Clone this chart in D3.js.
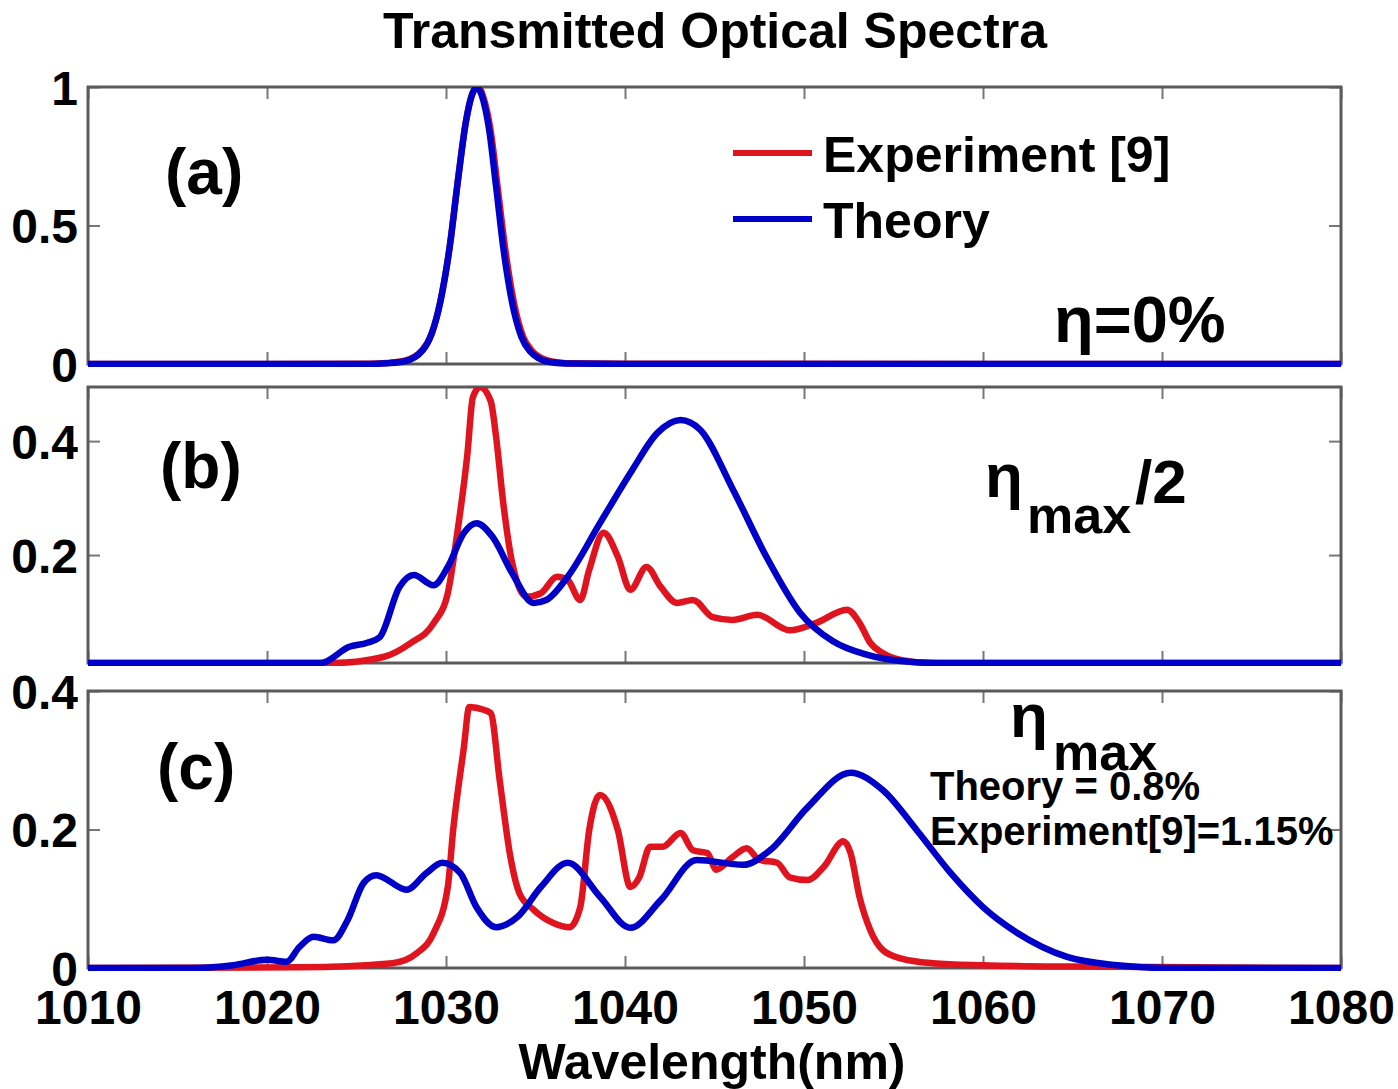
<!DOCTYPE html>
<html><head><meta charset="utf-8">
<script src="https://cdn.jsdelivr.net/npm/d3@7"></script>
<style>
body{margin:0;background:#fff;}
text{font-family:"Liberation Sans",Arial,sans-serif;font-weight:bold;fill:#000;}
</style></head>
<body><svg id="chart" width="1398" height="1089"></svg>
<script>
// ---- data ----
const xTicks = [1010,1020,1030,1040,1050,1060,1070,1080];

// panel (a): eta = 0%
const aExpX = [1010,1020,1025.7,1026.7,1027.7,1028.7,1029.2,1029.7,1030.2,1030.7,1031.1,1031.5,1031.8,1032.1,1032.5,1032.9,1033.3,1033.8,1034.3,1034.8,1035.3,1035.9,1036.7,1040,1080];
const aExpY = [0,0,0.001,0.004,0.012,0.052,0.11,0.23,0.42,0.68,0.87,0.98,1.0,0.96,0.84,0.63,0.42,0.22,0.1,0.048,0.022,0.009,0.003,0.001,0];
const aTheX = [1010,1020,1025.7,1026.7,1027.7,1028.7,1029.2,1029.7,1030.2,1030.7,1031.1,1031.5,1031.7,1032,1032.4,1032.8,1033.2,1033.7,1034.2,1034.7,1035.2,1035.7,1036.7,1040,1080];
const aTheY = [0,0,0,0.003,0.01,0.05,0.11,0.23,0.42,0.68,0.87,0.98,1.0,0.97,0.85,0.64,0.42,0.22,0.1,0.045,0.02,0.008,0.002,0,0];

// panel (b): eta_max/2
const bExpX = [1010,1020,1022,1023.7,1026.5,1028,1029.3,1030.1,1030.6,1031.2,1031.5,1031.9,1032.5,1032.8,1033.2,1033.7,1034.5,1035.3,1036.2,1036.8,1037.5,1038,1038.8,1039.6,1040.3,1041.2,1042,1042.9,1043.8,1044.9,1046,1047.4,1049.2,1050.7,1052.4,1053.1,1053.7,1054.4,1055.4,1057,1060,1080];
const bExpY = [0,0,0.004,0.01,0.021,0.045,0.08,0.133,0.232,0.379,0.477,0.5,0.47,0.407,0.291,0.186,0.127,0.133,0.162,0.156,0.121,0.174,0.239,0.197,0.139,0.179,0.144,0.116,0.121,0.091,0.086,0.095,0.068,0.081,0.104,0.081,0.046,0.028,0.016,0.008,0.004,0.002];
const bTheX = [1010,1020,1023,1024.6,1025.6,1026.3,1027.4,1028.2,1029.3,1030.1,1031,1031.7,1032.6,1033.7,1034.9,1035.6,1036.8,1038.6,1040.4,1041.8,1043.1,1044.2,1046,1047.9,1049.8,1051.6,1053.5,1055.4,1057.5,1060,1080];
const bTheY = [0,0,0.01,0.039,0.046,0.056,0.144,0.165,0.147,0.179,0.239,0.256,0.232,0.168,0.116,0.121,0.162,0.256,0.349,0.414,0.437,0.42,0.317,0.197,0.098,0.049,0.025,0.014,0.006,0.002,0];

// panel (c): eta_max
const cExpX = [1010,1021.8,1027,1028.4,1029.3,1030.1,1030.4,1031,1031.3,1032.1,1032.5,1033,1033.6,1034.1,1034.9,1036,1036.9,1037.5,1038,1038.6,1039.6,1040.3,1040.8,1041.4,1042.1,1043.1,1043.8,1044.6,1045.1,1046,1046.8,1047.5,1048.5,1049.2,1050.2,1051.1,1052.2,1052.6,1053.1,1053.7,1054.4,1055.4,1057.2,1060,1065,1080];
const cExpY = [0,0.001,0.007,0.022,0.05,0.117,0.199,0.319,0.377,0.373,0.368,0.271,0.16,0.108,0.084,0.065,0.059,0.088,0.199,0.25,0.199,0.117,0.131,0.175,0.175,0.195,0.17,0.166,0.142,0.16,0.173,0.156,0.152,0.131,0.127,0.146,0.183,0.166,0.103,0.055,0.026,0.014,0.007,0.004,0.002,0];
const cTheX = [1010,1016,1018.1,1020,1021.1,1021.8,1022.6,1023.7,1024.5,1025.4,1026.1,1027.8,1028.9,1029.8,1030.8,1031.7,1032.8,1034,1035.3,1036.8,1038.6,1040.3,1042,1044,1046.6,1048.1,1050.2,1052.6,1054.4,1056.3,1058.2,1060,1061.9,1064.7,1067.5,1070.3,1080];
const cTheY = [0,0,0.004,0.012,0.009,0.03,0.045,0.04,0.069,0.123,0.134,0.113,0.137,0.152,0.137,0.088,0.059,0.074,0.117,0.152,0.103,0.058,0.098,0.156,0.149,0.17,0.232,0.282,0.257,0.199,0.137,0.088,0.051,0.016,0.004,0,0];

// ---- layout ----
const svg = d3.select("#chart");
const X0 = 88, X1 = 1341;
const x = d3.scaleLinear().domain([1010,1080]).range([X0,X1]);
const RED = "#e0141e", BLUE = "#0000c8";

const panels = [
  {id:"a", top:87, bottom:364, dom:[0,1], yt:[0,0.5,1], ylab:[0,0.5,1], fmt:d3.format(""),
   exp:[aExpX,aExpY], the:[aTheX,aTheY]},
  {id:"b", top:387, bottom:663, dom:[0.0105,0.495], yt:[0.2,0.4], ylab:[0.2,0.4], fmt:d3.format(".1f"),
   exp:[bExpX,bExpY], the:[bTheX,bTheY]},
  {id:"c", top:691, bottom:968, dom:[0,0.4], yt:[0,0.2,0.4], ylab:[0,0.2,0.4], fmt:d3.format(""),
   exp:[cExpX,cExpY], the:[cTheX,cTheY]}
];

const defs = svg.append("defs");

panels.forEach((p,i) => {
  const y = d3.scaleLinear().domain(p.dom).range([p.bottom,p.top]).clamp(true);
  const g = svg.append("g");
  defs.append("clipPath").attr("id","clip"+p.id)
    .append("rect").attr("x",X0).attr("y",p.top).attr("width",X1-X0).attr("height",p.bottom-p.top+3);

  const tickStyle = s => s.call(a=>a.select(".domain").remove())
      .selectAll(".tick line").attr("stroke","#777").attr("stroke-width",2);
  g.append("g").attr("transform",`translate(0,${p.top})`)
    .call(d3.axisTop(x).tickValues(xTicks).tickSize(-12).tickFormat(""))
    .call(tickStyle);
  const bottomAxis = g.append("g").attr("transform",`translate(0,${p.bottom})`)
    .call(d3.axisBottom(x).tickValues(xTicks).tickSize(-12).tickPadding(22)
      .tickFormat(i===2 ? d3.format("d") : ""));
  bottomAxis.call(tickStyle);
  bottomAxis.selectAll("text").attr("font-size",48).attr("fill","#000")
    .style("font-family","Liberation Sans").style("font-weight","bold");
  g.append("g").attr("transform",`translate(${X1},0)`)
    .call(d3.axisRight(y).tickValues(p.yt).tickSize(-12).tickFormat(""))
    .call(tickStyle);
  const leftAxis = g.append("g").attr("transform",`translate(${X0},0)`)
    .call(d3.axisLeft(y).tickValues(p.ylab).tickSize(-12).tickPadding(10).tickFormat(p.fmt));
  leftAxis.call(tickStyle);
  leftAxis.selectAll("text").attr("font-size",48).attr("dy","0.36em").attr("fill","#000")
    .style("font-family","Liberation Sans").style("font-weight","bold");

  g.append("rect").attr("x",X0).attr("y",p.top).attr("width",X1-X0).attr("height",p.bottom-p.top)
    .attr("fill","none").attr("stroke","#5a5a5a").attr("stroke-width",3);

  const line = d3.line().x(d=>x(d[0])).y(d=>y(d[1])).curve(d3.curveMonotoneX);
  const clip = g.append("g").attr("clip-path",`url(#clip${p.id})`);
  [[p.exp,RED],[p.the,BLUE]].forEach(([s,c])=>{
    const pts = s[0].map((v,k)=>[v,s[1][k]]);
    clip.append("path").datum(pts).attr("d",line).attr("fill","none")
      .attr("stroke",c).attr("stroke-width",6.5).attr("stroke-linejoin","round").attr("stroke-linecap","round");
  });
});

// title and x label
svg.append("text").attr("x",715).attr("y",48).attr("text-anchor","middle").attr("font-size",50)
  .text("Transmitted Optical Spectra");
svg.append("text").attr("x",712).attr("y",1079).attr("text-anchor","middle").attr("font-size",50)
  .text("Wavelength(nm)");

// panel labels
[["(a)",165,194],["(b)",160,488],["(c)",157,789]].forEach(([t,px,py])=>{
  svg.append("text").attr("x",px).attr("y",py).attr("font-size",64).text(t);
});

// legend
const legend = [["Experiment [9]",RED,153],["Theory",BLUE,219]];
legend.forEach(([t,c,ly])=>{
  svg.append("line").attr("x1",733).attr("x2",812).attr("y1",ly).attr("y2",ly)
    .attr("stroke",c).attr("stroke-width",6);
  svg.append("text").attr("x",823).attr("y",ly+19).attr("font-size",50).text(t);
});

// annotations
svg.append("text").attr("x",1054).attr("y",342).attr("font-size",65).text("η=0%");
svg.append("text").attr("x",985).attr("y",497).attr("font-size",62).text("η");
svg.append("text").attr("x",1027).attr("y",533).attr("font-size",52).text("max");
svg.append("text").attr("x",1135).attr("y",503).attr("font-size",62).text("/2");
svg.append("text").attr("x",1010).attr("y",737).attr("font-size",62).text("η");
svg.append("text").attr("x",1053).attr("y",770).attr("font-size",52).text("max");
svg.append("text").attr("x",930).attr("y",800).attr("font-size",40).text("Theory = 0.8%");
svg.append("text").attr("x",930).attr("y",845).attr("font-size",40).text("Experiment[9]=1.15%");
</script></body></html>
